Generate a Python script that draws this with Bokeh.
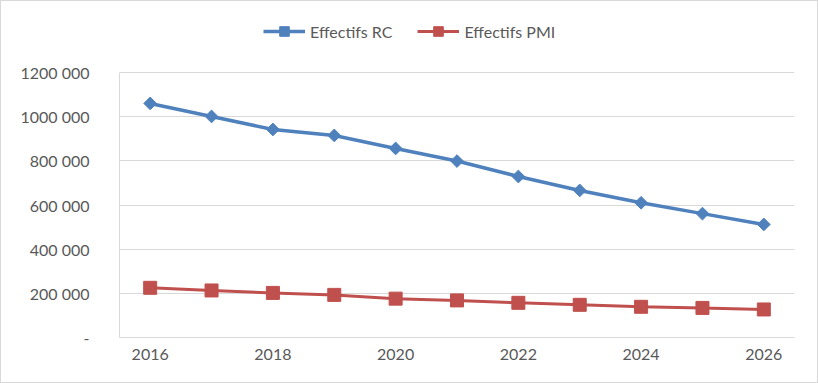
import math
from bokeh.plotting import figure
from bokeh.models import FixedTicker, Range1d, Legend, LegendItem
from bokeh.embed import file_html
from bokeh.resources import INLINE

years = [2016, 2017, 2018, 2019, 2020, 2021, 2022, 2023, 2024, 2025, 2026]
effectifs_rc = [1060000, 1001000, 942000, 915000, 856000, 799000, 729000, 666000, 610000, 561000, 512000]
effectifs_pmi = [225000, 213000, 202000, 193000, 176000, 168000, 157000, 148000, 139000, 134000, 127000]

x_ticks = [2016, 2018, 2020, 2022, 2024, 2026]
y_ticks = [0, 200000, 400000, 600000, 800000, 1000000, 1200000]
y_labels = ["-", "200 000", "400 000", "600 000", "800 000", "1000 000", "1200 000"]
y_max = 1200000

label_names = ["Effectifs RC", "Effectifs PMI"]
blue = "#4F81BD"
red = "#C0504D"
grid = "#D9D9D9"
txt = "#595959"
FONT = "Lato"

# frame extends above the top gridline so the legend can sit inside it
frame_h = 329
axis_h = 265
p = figure(frame_width=675, frame_height=frame_h, min_border_left=118, min_border_right=23,
           min_border_top=7, min_border_bottom=45, output_backend="svg",
           toolbar_location=None, x_range=Range1d(2015.5, 2026.5),
           y_range=Range1d(0, y_max * frame_h / axis_h))
p.styles = {"border": "1px solid #D9D9D9"}
p.outline_line_color = None
p.background_fill_color = "white"
p.border_fill_color = "white"

p.xgrid.grid_line_color = None
p.ygrid.grid_line_color = grid
p.ygrid.grid_line_width = 1
p.yaxis.ticker = FixedTicker(ticks=y_ticks)
p.yaxis.major_label_overrides = {t: l for t, l in zip(y_ticks, y_labels)}
p.yaxis.bounds = (0, y_max)
p.xaxis.ticker = FixedTicker(ticks=x_ticks)

for ax in (p.xaxis, p.yaxis):
    ax.axis_line_color = grid
    ax.axis_line_width = 1
    ax.major_tick_line_color = None
    ax.minor_tick_line_color = None
    ax.major_tick_out = 0
    ax.major_tick_in = 0
    ax.major_label_text_font = FONT
    ax.major_label_text_font_size = "16px"
    ax.major_label_text_color = txt
p.yaxis.major_label_standoff = 30
p.xaxis.major_label_standoff = 11

l1 = p.line(years, effectifs_rc, line_color=blue, line_width=3.5)
m1 = p.scatter(years, effectifs_rc, marker="square", angle=math.pi / 4, size=9,
               fill_color=blue, line_color=blue)
l2 = p.line(years, effectifs_pmi, line_color=red, line_width=3)
m2 = p.scatter(years, effectifs_pmi, marker="square", size=13,
               fill_color=red, line_color=red)

legend = Legend(items=[LegendItem(label=label_names[0], renderers=[l1, m1]),
                       LegendItem(label=label_names[1], renderers=[l2, m2])],
                location=(144, 294), orientation="horizontal")
legend.border_line_color = None
legend.background_fill_alpha = 0
legend.padding = 0
legend.margin = 0
legend.spacing = 25
legend.label_standoff = 5
legend.glyph_width = 42
legend.glyph_height = 24
legend.label_text_font = FONT
legend.label_text_font_size = "16px"
legend.label_text_color = txt
p.add_layout(legend, "center")

open("out.html", "w").write(file_html(p, INLINE))
